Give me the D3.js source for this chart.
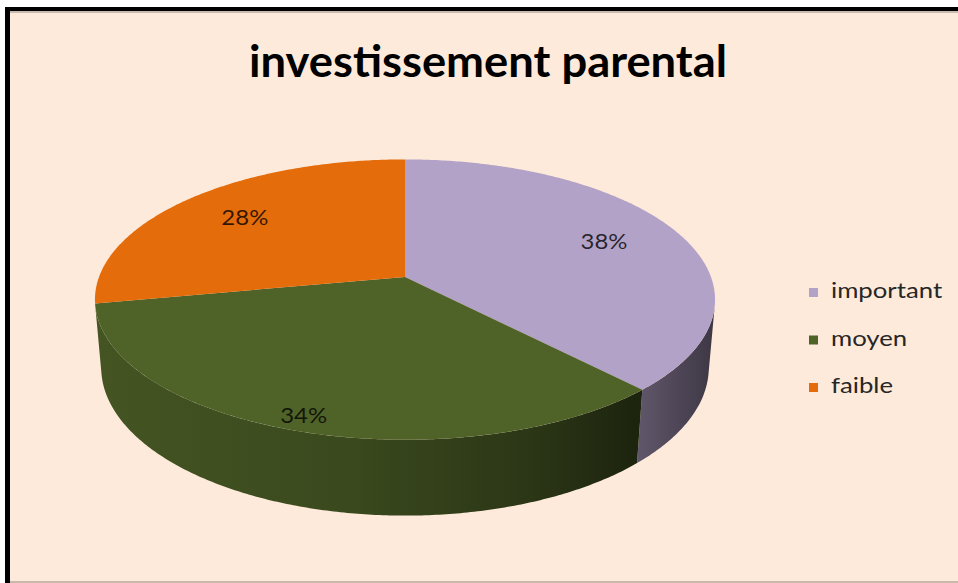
<!DOCTYPE html>
<html>
<head>
<meta charset="utf-8">
<script src="https://cdn.jsdelivr.net/npm/d3@7"></script>
<style>
  body { margin: 0; background: #ffffff; }
  svg { display: block; }
  text { font-family: Lato, "Open Sans", sans-serif; }
</style>
</head>
<body>
<script>
// ---- data ----
const categories = ["important", "moyen", "faible"];
const values = [38, 34, 28];
const labels = ["38%", "34%", "28%"];
const title = "investissement parental";

// ---- styles ----
const topColors = ["#B3A2C7", "#4F6228", "#E46C0A"];
// darkening of each slice's outer wall, from its left end to its right end
const wallShade = [
  [[0, 0.46], [1, 0.66]],
  [[0, 0.14], [0.45, 0.25], [0.8, 0.45], [1, 0.64]],
  [[0, 0.2], [1, 0.5]]
];

const W = 958, H = 583;
const svg = d3.select("body").append("svg").attr("width", W).attr("height", H);
const defs = svg.append("defs");

// frame: dark edge on top and left, peach plot area
svg.append("rect").attr("x", 5).attr("y", 7).attr("width", W - 5).attr("height", H - 7).attr("fill", "#000");
svg.append("rect").attr("x", 10).attr("y", 11).attr("width", W - 10).attr("height", H - 11).attr("fill", "#c9b9ab");
svg.append("rect").attr("x", 10).attr("y", 11).attr("width", W - 10).attr("height", H - 13).attr("fill", "#FDEADA");
svg.append("rect").attr("x", 10).attr("y", 11).attr("width", W - 10).attr("height", 2).attr("fill", "#6b625c").attr("opacity", 0.35);

// ---- perspective view of a flat cylinder ----
const cx = 405, cy = 277, R = 306;
const tilt = 26.5 * Math.PI / 180;   // camera elevation
const dist = 5.56;                    // camera distance in radii
const thick = 0.25;                   // pie thickness in radii

function project(theta, level, r = 1) {
  const x = r * Math.sin(theta), z = -r * Math.cos(theta), y = level;
  const ys = z * Math.sin(tilt) - y * Math.cos(tilt);
  const d = z * Math.cos(tilt) + y * Math.sin(tilt);
  const s = dist / (dist - d);
  return [cx + R * s * x, cy + R * s * ys];
}
function arcPts(a0, a1, level) {
  const n = Math.max(2, Math.ceil(Math.abs(a1 - a0) / 0.01));
  return d3.range(n + 1).map(i => project(a0 + (a1 - a0) * i / n, level));
}
const line = d3.line();

const arcs = d3.pie().sort(null).value(d => d)(values);

// visible part of the outer wall (between the two silhouette tangents)
const half = Math.acos(1 / (dist * Math.cos(tilt)));
const visLo = Math.PI - half, visHi = Math.PI + half;

const walls = svg.append("g");
arcs.forEach((a, i) => {
  const a0 = Math.max(a.startAngle, visLo), a1 = Math.min(a.endAngle, visHi);
  if (a1 <= a0) return;
  const topEdge = arcPts(a0, a1, 0);
  const botEdge = arcPts(a1, a0, -thick);
  const pts = topEdge.concat(botEdge);
  const xs = pts.map(p => p[0]);
  const grad = defs.append("linearGradient")
    .attr("id", "wall" + i)
    .attr("gradientUnits", "userSpaceOnUse")
    .attr("x1", d3.min(xs)).attr("x2", d3.max(xs)).attr("y1", 0).attr("y2", 0);
  wallShade[i].forEach(([t, k]) => {
    grad.append("stop").attr("offset", t)
      .attr("stop-color", d3.interpolateRgb(topColors[i], "#000")(k));
  });
  walls.append("path").attr("d", line(pts) + "Z").attr("fill", `url(#wall${i})`);
});

// top faces
const tops = svg.append("g");
arcs.forEach((a, i) => {
  const pts = [project(0, 0, 0)].concat(arcPts(a.startAngle, a.endAngle, 0));
  tops.append("path").attr("d", line(pts) + "Z").attr("fill", topColors[i]);
});

// data labels: slices facing the viewer show their wall too, so their label sits further out
function fitText(sel, stretch) {
  sel.each(function () {
    const w = this.getComputedTextLength();
    d3.select(this).attr("textLength", w * stretch).attr("lengthAdjust", "spacingAndGlyphs");
  });
}
arcs.forEach((a, i) => {
  const mid = (a.startAngle + a.endAngle) / 2;
  const front = Math.max(0, -Math.cos(mid));
  const [x, y] = project(mid, 0, 0.73 + 0.2 * front);
  svg.append("text").attr("x", x).attr("y", y + 7).attr("text-anchor", "middle")
    .attr("font-size", 21).attr("fill", "#000").attr("fill-opacity", 0.78)
    .text(labels[i]).call(fitText, 1.14);
});

// title
svg.append("text").attr("x", 488).attr("y", 77).attr("text-anchor", "middle")
  .attr("font-size", 44).attr("font-weight", 700).attr("fill", "#000")
  .attr("textLength", 478).attr("lengthAdjust", "spacingAndGlyphs")
  .text(title);

// legend
const legend = svg.append("g").attr("transform", "translate(809,298)");
const ly = d3.scalePoint().domain(categories).range([0, 95]);
categories.forEach((c, i) => {
  const g = legend.append("g").attr("transform", `translate(0,${ly(c)})`);
  g.append("rect").attr("x", 0).attr("y", -10).attr("width", 9).attr("height", 9).attr("fill", topColors[i]);
  g.append("text").attr("x", 22).attr("y", 0).attr("font-size", 22).attr("fill", "#262626")
    .text(c).call(fitText, 1.17);
});
</script>
</body>
</html>
